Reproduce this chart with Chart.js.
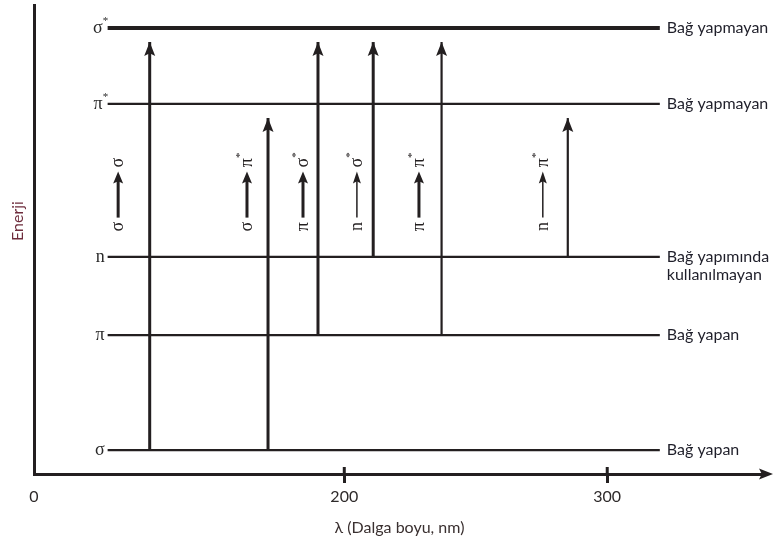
<!DOCTYPE html>
<html>
<head>
<meta charset="utf-8">
<script src="https://cdn.jsdelivr.net/npm/chart.js@4.4.1/dist/chart.umd.min.js"></script>
<style>
  html, body { margin: 0; padding: 0; background: #fff; }
  #wrap { width: 778px; height: 540px; }
</style>
</head>
<body>
<div id="wrap"><canvas id="c"></canvas></div>
<script>
// energy levels (arbitrary energy units 0..10)
const levelSymbols = ['σ*', 'π*', 'n', 'π', 'σ'];
const levelEnergy = [9.51, 7.89, 4.63, 2.96, 0.51];
const levelNames = [['Bağ yapmayan'], ['Bağ yapmayan'], ['Bağ yapımında', 'kullanılmayan'], ['Bağ yapan'], ['Bağ yapan']];
const levelStart = 110, levelEnd = 320;

// transitions (x in nm, schematic)
const transX = [126, 171, 190, 211, 237, 285];
const transFrom = ['σ', 'σ', 'π', 'n', 'π', 'n'];
const transTo = ['σ', 'π*', 'σ*', 'σ*', 'π*', 'π*'];
const transTip = [9.21, 7.59, 9.21, 9.21, 9.21, 7.59];
const labelX = [114, 163, 184.3, 204.8, 228.4, 275.5];
const labelEnergy = 6.0;

// x axis (broken: origin is labelled 0)
const xMin = 82, xMax = 360;
const xTickValues = [xMin, 200, 300];
const xTickLabels = ['0', '200', '300'];

const INK = '#231f20';
const energyOf = s => levelEnergy[levelSymbols.indexOf(s)];

const datasets = [];
levelEnergy.forEach((e, i) => {
  datasets.push({ data: [{ x: levelStart, y: e }, { x: levelEnd, y: e }], borderColor: INK, borderWidth: i === 0 ? 4 : 2.2 });
});
transX.forEach((x, i) => {
  datasets.push({ data: [{ x: x, y: energyOf(transFrom[i]) }, { x: x, y: transTip[i] }], borderColor: INK, borderWidth: i < 4 ? 3 : 2.2 });
});

function head(ctx, x, y, ang, len, hw) {
  ctx.save();
  ctx.translate(x, y);
  ctx.rotate(ang);
  ctx.beginPath();
  ctx.moveTo(0, 0);
  ctx.lineTo(-len, -hw);
  ctx.lineTo(-len * 0.8, 0);
  ctx.lineTo(-len, hw);
  ctx.closePath();
  ctx.fill();
  ctx.restore();
}

function symbol(ctx, s, x, y, align) {
  const base = s.replace('*', '');
  ctx.font = '18px "Liberation Serif"';
  ctx.textAlign = align;
  ctx.textBaseline = 'middle';
  ctx.fillText(base, x, y);
  if (s.endsWith('*')) {
    const w = ctx.measureText(base).width;
    const sx = align === 'right' ? x : (align === 'center' ? x + w / 2 : x + w);
    ctx.font = '11px "Liberation Serif"';
    ctx.textAlign = 'left';
    ctx.fillText('*', sx, y - 7);
  }
}

const decor = {
  id: 'decor',
  afterDatasetsDraw(chart) {
    const { ctx, scales: { x, y }, chartArea: a } = chart;
    ctx.save();
    ctx.fillStyle = INK;
    ctx.strokeStyle = INK;

    // arrow heads on transitions
    transX.forEach((tx, i) => head(ctx, x.getPixelForValue(tx), y.getPixelForValue(transTip[i]), -Math.PI / 2, 14, 5.5));

    // x axis arrow + upper part of ticks
    head(ctx, a.right + 8, a.bottom, 0, 14, 5.5);
    ctx.lineWidth = 3;
    xTickValues.slice(1).forEach(v => {
      const px = x.getPixelForValue(v);
      ctx.beginPath(); ctx.moveTo(px, a.bottom - 7); ctx.lineTo(px, a.bottom); ctx.stroke();
    });

    // level symbols (left) and names (right)
    levelEnergy.forEach((e, i) => {
      const py = y.getPixelForValue(e);
      ctx.fillStyle = '#2a2a2a';
      const sym = levelSymbols[i];
      symbol(ctx, sym, x.getPixelForValue(levelStart) - (sym.endsWith('*') ? 5 : 3), py, 'right');
      ctx.fillStyle = '#1f1f2a';
      ctx.font = '16px Lato';
      ctx.textAlign = 'left';
      ctx.textBaseline = 'middle';
      levelNames[i].forEach((t, k) => ctx.fillText(t, x.getPixelForValue(levelEnd) + 7, py + k * 18));
    });

    // rotated transition labels
    ctx.fillStyle = INK;
    labelX.forEach((lx, i) => {
      ctx.save();
      ctx.translate(x.getPixelForValue(lx), y.getPixelForValue(labelEnergy));
      ctx.rotate(-Math.PI / 2);
      symbol(ctx, transFrom[i], -34, 0, 'center');
      symbol(ctx, transTo[i], 30, 0, 'center');
      const thick = transFrom[i] !== 'n';
      ctx.lineWidth = thick ? 3 : 1.5;
      ctx.beginPath(); ctx.moveTo(-25, 0); ctx.lineTo(12, 0); ctx.stroke();
      head(ctx, 21, 0, 0, 12, thick ? 5 : 4);
      ctx.restore();
    });

    // y title
    ctx.save();
    ctx.translate(18, 221);
    ctx.rotate(-Math.PI / 2);
    ctx.fillStyle = '#6e2c3c';
    ctx.font = '16px Lato';
    ctx.textAlign = 'center';
    ctx.textBaseline = 'middle';
    ctx.fillText('Enerji', 0, 0);
    ctx.restore();

    ctx.restore();
  }
};

new Chart(document.getElementById('c'), {
  type: 'scatter',
  data: { datasets: datasets },
  options: {
    responsive: true,
    maintainAspectRatio: false,
    animation: false,
    showLine: true,
    elements: { point: { radius: 0, hoverRadius: 0 }, line: { borderCapStyle: 'butt' } },
    layout: { padding: { top: 5, right: 13, left: 0, bottom: 0 } },
    plugins: { legend: { display: false }, tooltip: { enabled: false } },
    scales: {
      x: {
        type: 'linear', min: xMin, max: xMax,
        afterBuildTicks: s => { s.ticks = xTickValues.map(v => ({ value: v })); },
        afterFit: s => { s.height = 66; },
        grid: {
          drawOnChartArea: false, drawTicks: true, tickLength: 9, lineWidth: 3,
          color: c => (c.tick && c.tick.value === xMin) ? 'rgba(0,0,0,0)' : INK
        },
        border: { display: true, color: INK, width: 3 },
        ticks: {
          padding: 4, color: '#2e2a2a', font: { family: 'Lato', size: 16 },
          callback: v => xTickLabels[xTickValues.indexOf(v)]
        },
        title: { display: true, text: 'λ (Dalga boyu, nm)', color: '#3a3030', font: { family: 'Lato', size: 16 }, padding: { top: 0, bottom: 3 } }
      },
      y: {
        type: 'linear', min: 0, max: 10,
        afterFit: s => { s.width = 34; },
        grid: { display: true, drawOnChartArea: false, drawTicks: false, color: 'rgba(0,0,0,0)' },
        border: { display: true, color: INK, width: 3 },
        ticks: { display: false }
      }
    }
  },
  plugins: [decor]
});
</script>
</body>
</html>
